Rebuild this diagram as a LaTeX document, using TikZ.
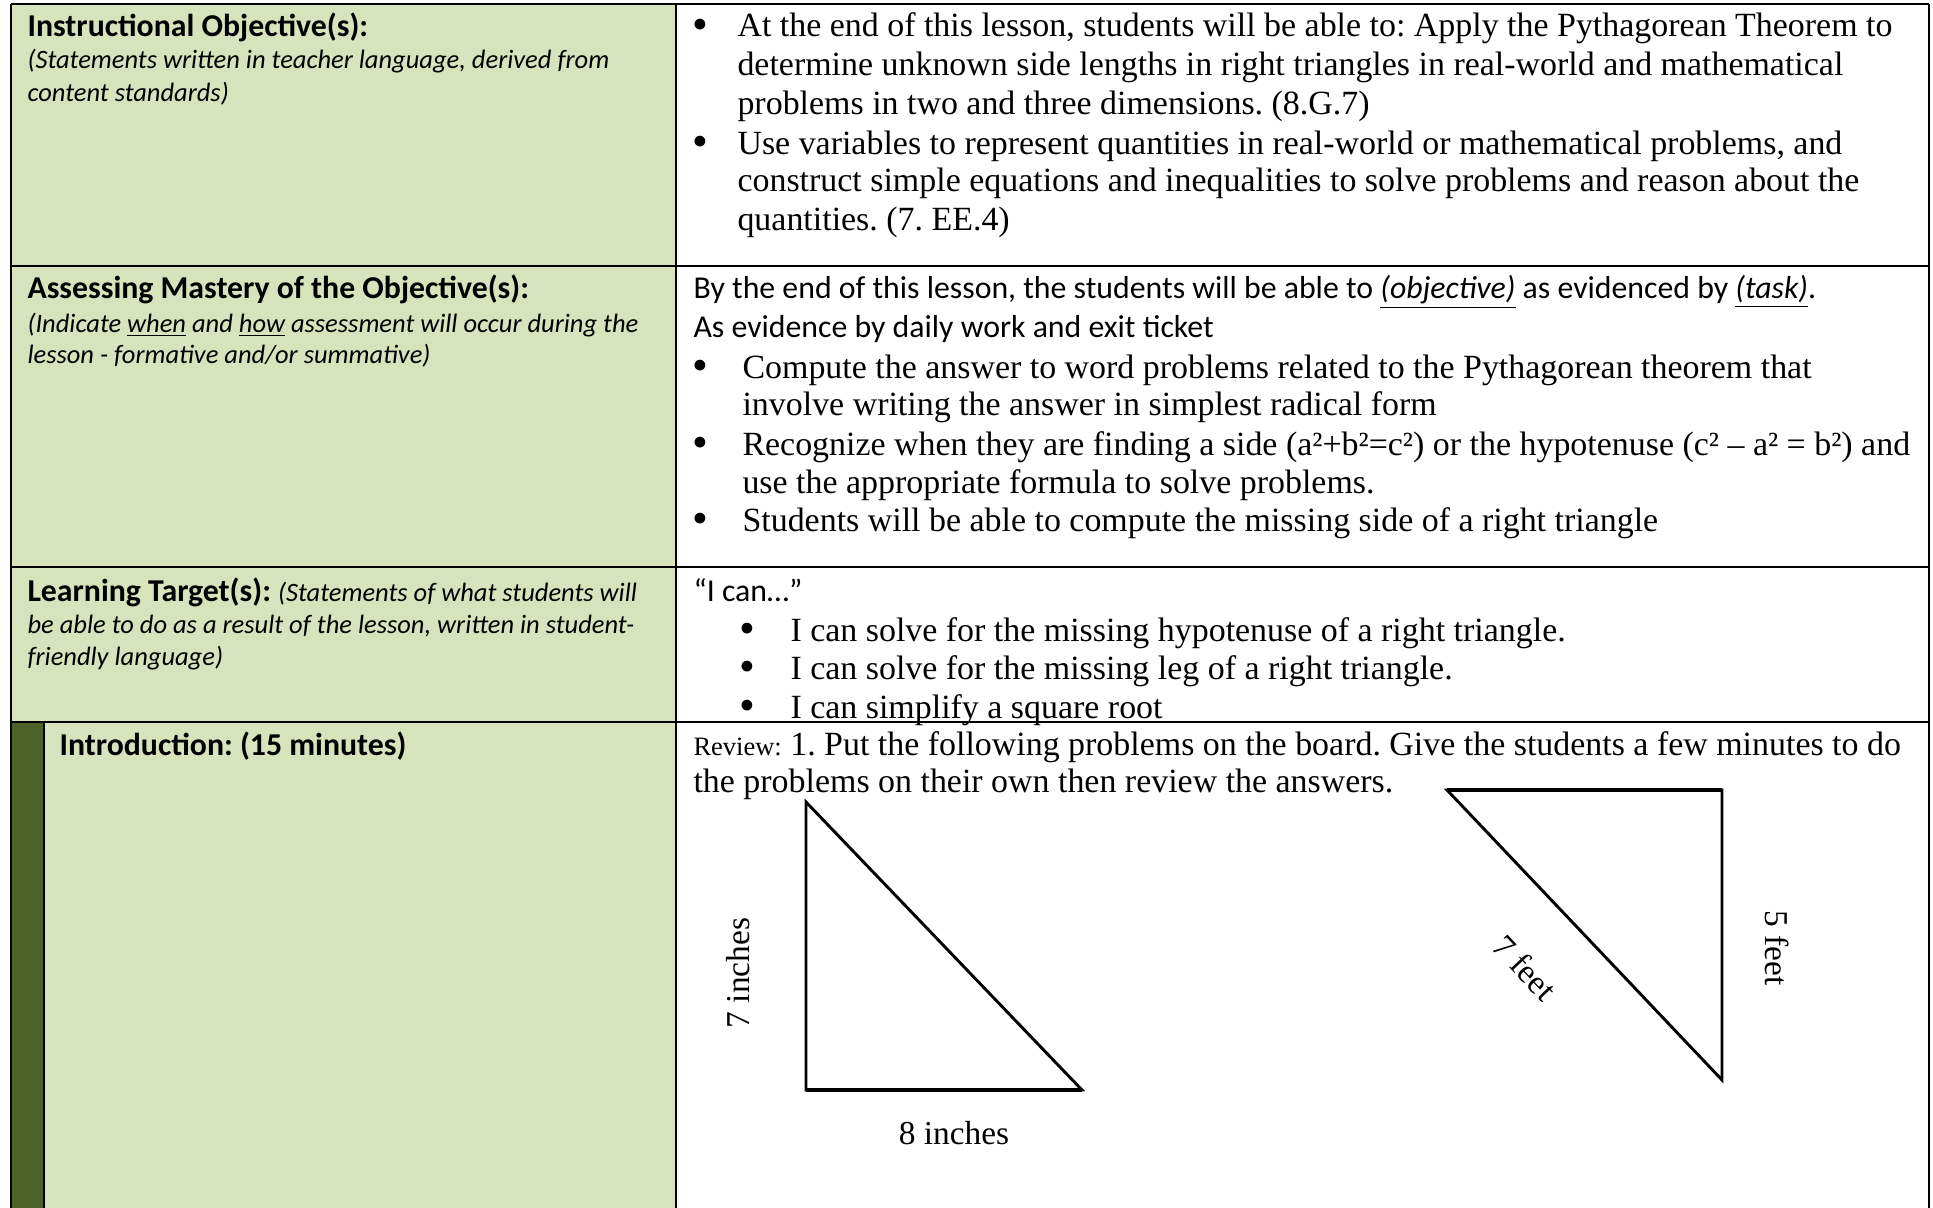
\documentclass[tikz,border=0pt]{standalone}
\usepackage{fontspec}
\setmainfont{Liberation Serif}
\newfontfamily\headfont{Carlito}
\frenchspacing
\definecolor{cellgreen}{HTML}{D7E3BC}
\definecolor{stripgreen}{HTML}{4F6228}

\begin{document}
\begin{tikzpicture}[x=0.3774pt,y=-0.3774pt,
        headline/.style={anchor=base west,inner sep=0pt,font=\headfont\bfseries\fontsize{12}{14}\selectfont},
        hintline/.style={anchor=base west,inner sep=0pt,font=\headfont\itshape\fontsize{10}{12}\selectfont},
        sansline/.style={anchor=base west,inner sep=0pt,font=\headfont\fontsize{12}{14}\selectfont},
        bodyline/.style={anchor=base west,inner sep=0pt,font=\fontsize{12.8}{14}\selectfont},
        bul/.style={anchor=base,inner sep=0pt,yshift=-0.9pt,font=\fontsize{17}{18}\selectfont},
        sidelabel/.style={inner sep=0pt,font=\fontsize{12.6}{14}\selectfont},
        rule/.style={line width=1pt},
        leg/.style={line width=1.1pt,line join=miter}]
        \fill[white] (0,0) rectangle (1933,1208);
        \useasboundingbox (0,0) rectangle (1933,1208);
    % cells
        \fill[cellgreen] (11,4) rectangle (676,1208);
        \fill[stripgreen] (11,722) rectangle (44,1208);
    % left column
        \node[headline] (objhead) at (27,37) {Instructional Objective(s):};
        \node[hintline] (objhint1) at (27,69) {(Statements written in teacher language, derived from};
        \node[hintline] (objhint2) at (27,102) {content standards)};
        \node[headline] (masthead) at (27,298) {Assessing Mastery of the Objective(s):};
        \node[hintline] (masthint1) at (27,332) {(Indicate \underline{when} and \underline{how} assessment will occur during the};
        \node[hintline] (masthint2) at (27,363) {lesson - formative and/or summative)};
        \node[headline] (tarhead) at (27,601) {Learning Target(s): {\mdseries\itshape\fontsize{10}{12}\selectfont (Statements of what students will}};
        \node[hintline] (tarhint1) at (27,633) {be able to do as a result of the lesson, written in student-};
        \node[hintline] (tarhint2) at (27,665) {friendly language)};
        \node[headline] (introhead) at (59,755) {Introduction: (15 minutes)};
    % objectives
        \foreach \y in {37,154}{
            \node[bul] (objdot\y) at (700,\y) {•};
        }
        \foreach \n/\y/\t in {1/37/{At the end of this lesson, students will be able to: Apply the Pythagorean Theorem to},
                2/76/{determine unknown side lengths in right triangles in real-world and mathematical},
                3/115/{problems in two and three dimensions. (8.G.7)},
                4/154/{Use variables to represent quantities in real-world or mathematical problems, and},
                5/192/{construct simple equations and inequalities to solve problems and reason about the},
                6/230/{quantities. (7. EE.4)}}{
            \node[bodyline] (obj\n) at (737,\y) {\t};
        }
    % mastery
        \node[sansline] (mas0) at (693,298) {By the end of this lesson, the students will be able to \textit{\underline{(objective)}} as evidenced by \textit{\underline{(task)}}.};
        \node[sansline] (masev) at (693,337) {As evidence by daily work and exit ticket};
        \foreach \y in {378,455,531}{
            \node[bul] (masdot\y) at (700,\y) {•};
        }
        \foreach \n/\y/\t in {1/378/{Compute the answer to word problems related to the Pythagorean theorem that},
                2/415/{involve writing the answer in simplest radical form},
                3/455/{Recognize when they are finding a side (a²+b²=c²) or the hypotenuse (c² – a² = b²) and},
                4/493/{use the appropriate formula to solve problems.},
                5/531/{Students will be able to compute the missing side of a right triangle}}{
            \node[bodyline] (mas\n) at (742,\y) {\t};
        }
    % targets
        \node[sansline] (tarcan) at (693,601) {“I can…”};
        \foreach \n/\y/\t in {1/641/{I can solve for the missing hypotenuse of a right triangle.},
                2/679/{I can solve for the missing leg of a right triangle.},
                3/718/{I can simplify a square root}}{
            \node[bul] (tardot\n) at (747,\y) {•};
            \node[bodyline] (tar\n) at (790,\y) {\t};
        }
    % review
        \node[bodyline] (rev1) at (693,755) {{\fontsize{10}{12}\selectfont Review:} 1. Put the following problems on the board. Give the students a few minutes to do};
        \node[bodyline] (rev2) at (693,792) {the problems on their own then review the answers.};
    % triangles
        \draw[leg] (806,802) -- (806,1090) -- (1082,1090) -- cycle;
        \draw[line width=1.8pt] (806,1090) -- (1082,1090);
        \draw[leg] (1447,790) -- (1722,790) -- (1722,1080) -- cycle;
        \draw[line width=1.8pt] (1447,790) -- (1722,790);
        \node[sidelabel,rotate=90] (leg7in) at (738,973) {7 inches};
        \node[sidelabel] (leg8in) at (954,1133) {8 inches};
        \node[sidelabel,rotate=-46.5] (hyp7ft) at (1525,968) {7 feet};
        \node[sidelabel,rotate=-90] (leg5ft) at (1777,948) {5 feet};
    % rules
        \draw[rule] (11,4) -- (1929,4);
        \foreach \y in {266,567,722}{
            \draw[rule] (11,\y) -- (1929,\y);
        }
        \draw[rule] (11,4) -- (11,1208);
        \draw[rule] (676,4) -- (676,1208);
        \draw[rule] (1929,4) -- (1929,1208);
        \draw[rule] (44,722) -- (44,1208);
\end{tikzpicture}
\end{document}
